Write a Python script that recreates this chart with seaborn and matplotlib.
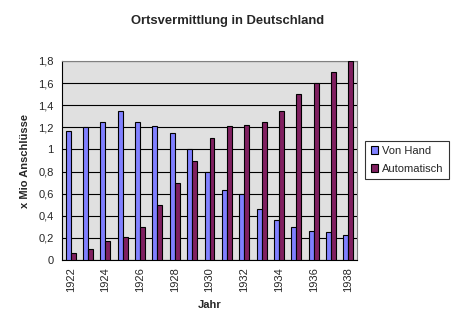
import numpy as np
import pandas as pd
import matplotlib
matplotlib.use("Agg")
import matplotlib.pyplot as plt
import seaborn as sns
from matplotlib.patches import Patch

years = [str(y) for y in range(1922, 1939)]
von_hand = [1.17, 1.20, 1.25, 1.35, 1.25, 1.21, 1.15, 1.00, 0.80, 0.63, 0.60, 0.46, 0.36, 0.30, 0.26, 0.25, 0.23]
automatisch = [0.06, 0.10, 0.17, 0.21, 0.30, 0.50, 0.70, 0.90, 1.10, 1.21, 1.22, 1.25, 1.35, 1.50, 1.60, 1.70, 1.80]
series_names = ["Von Hand", "Automatisch"]
colors = ["#8080FF", "#802060"]
y_ticks = [0, 0.2, 0.4, 0.6, 0.8, 1.0, 1.2, 1.4, 1.6, 1.8]
y_labels = ["0", "0,2", "0,4", "0,6", "0,8", "1", "1,2", "1,4", "1,6", "1,8"]

df = pd.DataFrame({
    "Jahr": years * 2,
    "Wert": von_hand + automatisch,
    "Serie": [series_names[0]] * len(years) + [series_names[1]] * len(years),
})

sns.set_style("white")
plt.rcParams["font.family"] = ["Liberation Sans", "DejaVu Sans"]

fig = plt.figure(figsize=(4.53, 3.31), dpi=100)
ax = fig.add_axes([62 / 453, 71 / 331, 295 / 453, 199 / 331])
ax.set_facecolor("#E0E0E0")

sns.barplot(data=df, x="Jahr", y="Wert", hue="Serie", hue_order=series_names,
            palette=colors, width=0.57, edgecolor="black", linewidth=0.8,
            saturation=1, ax=ax, legend=False, zorder=3)

ax.set_ylim(0, 1.8)
ax.set_xlim(-0.5, len(years) - 0.5)
ax.set_yticks(y_ticks)
ax.set_yticklabels(y_labels, fontsize=8)
ax.yaxis.grid(True, color="black", linewidth=0.8, zorder=1)
ax.set_axisbelow(True)

ax.set_xticks(range(0, len(years), 2))
ax.set_xticklabels(years[::2], rotation=90, fontsize=8)
ax.set_xticks(np.arange(-0.5, len(years), 1), minor=True)
ax.tick_params(axis="x", which="major", length=0, pad=5)
ax.tick_params(axis="x", which="minor", length=4, width=0.8, color="black", direction="out")
ax.tick_params(axis="y", which="major", length=4, width=0.8, color="black", direction="out", pad=2)

for s in ["left", "bottom"]:
    ax.spines[s].set_color("black")
    ax.spines[s].set_linewidth(0.8)
for s in ["top", "right"]:
    ax.spines[s].set_color("#808080")
    ax.spines[s].set_linewidth(0.8)

ax.set_xlabel("Jahr", fontsize=8, fontweight="bold", labelpad=6)
ax.set_ylabel("x Mio Anschlüsse", fontsize=8, fontweight="bold", labelpad=6)

fig.text(228 / 453, 1 - 21 / 331, "Ortsvermittlung in Deutschland", ha="center", va="center",
         fontsize=9.4, fontweight="bold")

handles = [Patch(facecolor=c, edgecolor="black", linewidth=0.8) for c in colors]
leg = fig.legend(handles, series_names, loc="center left", bbox_to_anchor=(365 / 453, 1 - 160 / 331),
                 fontsize=8, frameon=True, fancybox=False, handlelength=0.7, handleheight=0.7,
                 handletextpad=0.3, borderpad=0.5, labelspacing=0.7, borderaxespad=0)
leg.get_frame().set_edgecolor("black")
leg.get_frame().set_linewidth(0.8)

fig.savefig("out.png", dpi=100)
